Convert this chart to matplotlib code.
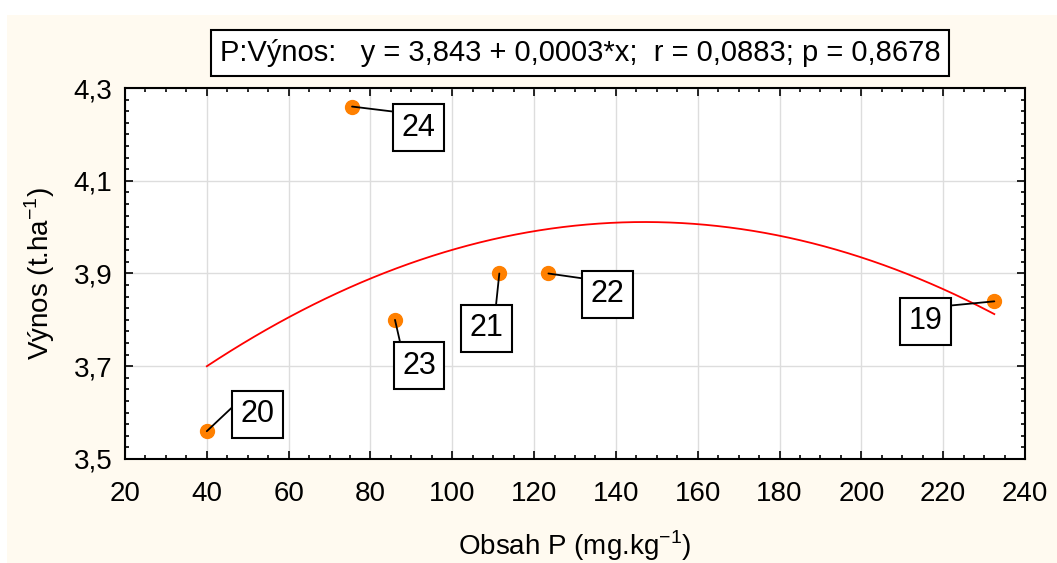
import matplotlib
matplotlib.use('Agg')
import matplotlib.pyplot as plt
from matplotlib.patches import Rectangle
from matplotlib.ticker import MultipleLocator, FuncFormatter
import numpy as np

plt.rcParams['font.family'] = ['Liberation Sans', 'DejaVu Sans']

# data
obsah_p = [232.5, 40, 111.5, 123.5, 86, 75.5]
vynos = [3.84, 3.56, 3.90, 3.90, 3.80, 4.26]
cisla = ['19', '20', '21', '22', '23', '24']
# offset of the label box (pixels) and where the leader line touches it
label_offsets = [(-69, -20), (51, 17), (-13, -55), (59, -21), (24, -46), (66, -21)]
label_relpos = [(1, 1), (0, 1), (0.76, 1), (0, 1), (0, 1), (0, 1)]
y_ticks = [3.5, 3.7, 3.9, 4.1, 4.3]

# quadratic fitted curve drawn in the chart: a + b*x + c*x^2
fit_coef = [3.4241, 0.007985, -2.716e-5]
title_text = 'P:Výnos:   y = 3,843 + 0,0003*x;  r = 0,0883; p = 0,8678'

fig = plt.figure(figsize=(10.57, 5.63), dpi=100)
fig.patch.set_facecolor('white')
fig.patches.append(Rectangle((7 / 1057, 0), 1, 1 - 15 / 563, transform=fig.transFigure,
                             facecolor='#fffaf0', edgecolor='none', zorder=-10))

ax = fig.add_axes([125 / 1057, 1 - 459 / 563, 900 / 1057, 371 / 563])
ax.set_facecolor('white')
ax.set_xlim(20, 240)
ax.set_ylim(3.5, 4.3)
ax.xaxis.set_major_locator(MultipleLocator(20))
ax.xaxis.set_minor_locator(MultipleLocator(5))
ax.set_yticks(y_ticks)
ax.yaxis.set_minor_locator(MultipleLocator(0.025))
ax.yaxis.set_major_formatter(FuncFormatter(lambda v, p: ('%.1f' % v).replace('.', ',')))
ax.tick_params(which='both', direction='in', top=True, right=True, width=1.2)
ax.tick_params(which='major', length=6, labelsize=20)
ax.tick_params(axis='x', which='major', pad=16)
ax.tick_params(axis='y', which='major', pad=9)
ax.tick_params(which='minor', length=3)
for s in ax.spines.values():
    s.set_linewidth(1.5)
ax.grid(True, which='major', color='#dddddd', lw=1)
ax.set_axisbelow(True)

xs = np.linspace(min(obsah_p), max(obsah_p), 200)
ax.plot(xs, fit_coef[0] + fit_coef[1] * xs + fit_coef[2] * xs ** 2, color='red', lw=1.3, zorder=2)
ax.plot(obsah_p, vynos, 'o', color='#ff8000', markersize=10, zorder=2.5)

for i in range(len(cisla)):
    ax.annotate(cisla[i], (obsah_p[i], vynos[i]), xytext=label_offsets[i],
                textcoords='offset pixels', ha='center', va='center', fontsize=22,
                bbox=dict(boxstyle='square,pad=0.28', facecolor='white', edgecolor='black', lw=1.5),
                arrowprops=dict(arrowstyle='-', color='black', lw=1.3, shrinkA=0, shrinkB=0,
                                relpos=label_relpos[i]), zorder=3)

ax.set_xlabel('Obsah P (mg.kg$^{\\mathregular{-1}}$)', fontsize=20, labelpad=15)
ax.set_ylabel('Výnos (t.ha$^{\\mathregular{-1}}$)', fontsize=20, labelpad=12)

fig.text(580 / 1057, 1 - 53 / 563, title_text, ha='center', va='center', fontsize=21,
         bbox=dict(boxstyle='square,pad=0.3', facecolor='white', edgecolor='black', lw=1.5))

fig.savefig('out.png', dpi=100, facecolor=fig.get_facecolor())
